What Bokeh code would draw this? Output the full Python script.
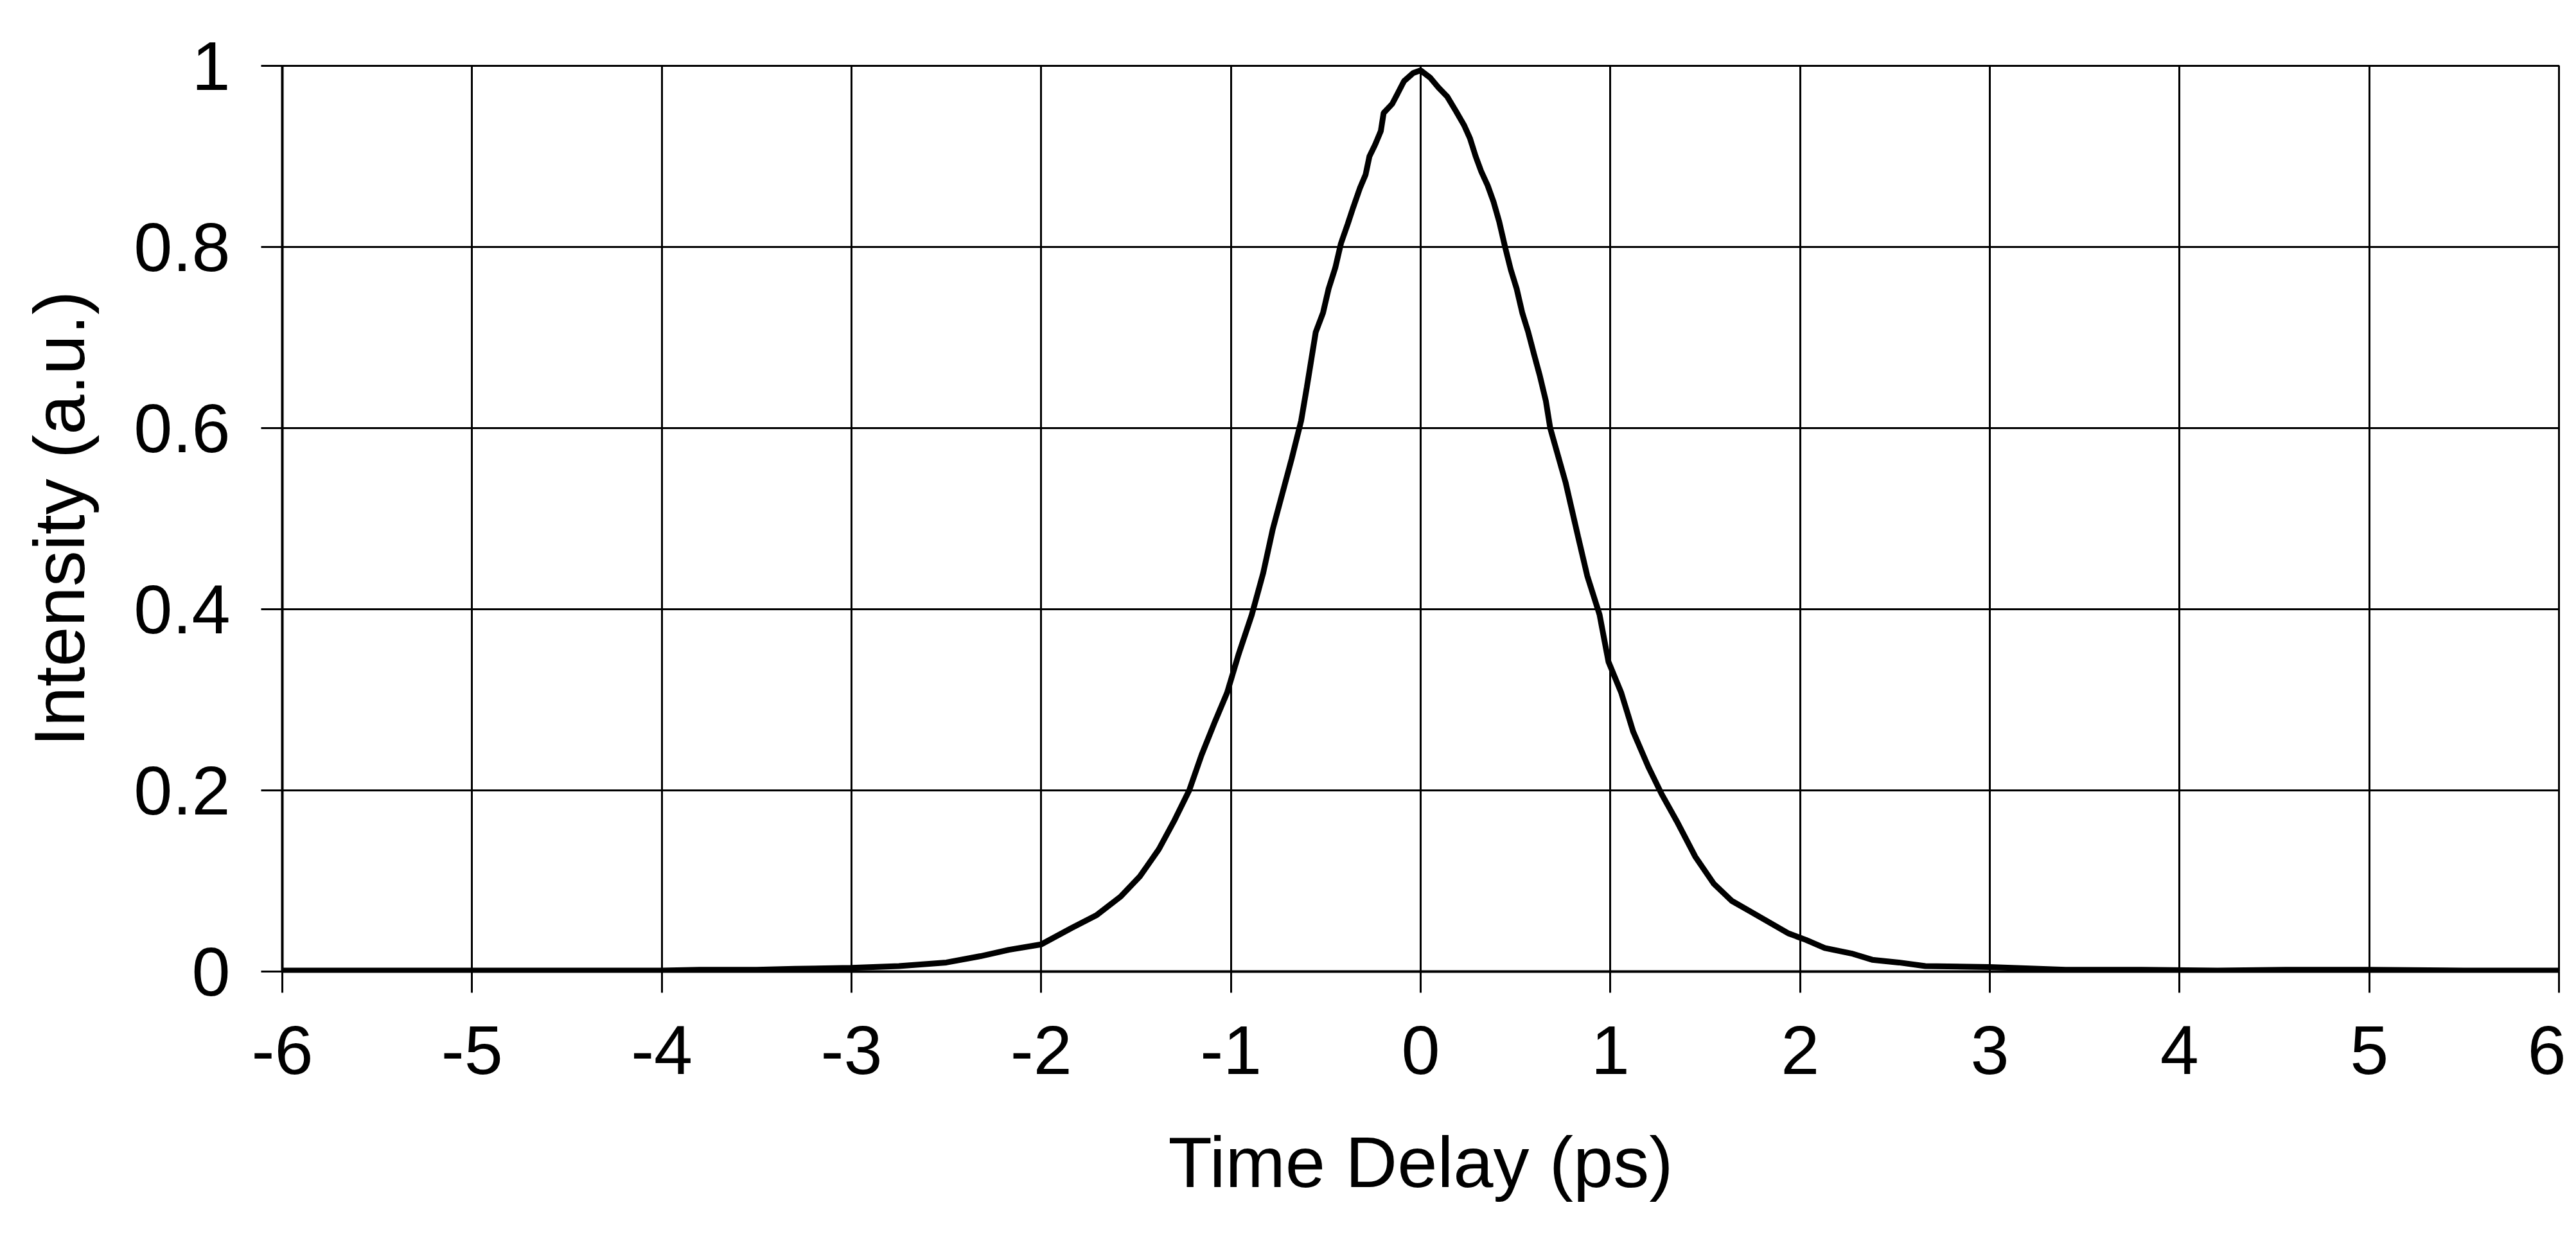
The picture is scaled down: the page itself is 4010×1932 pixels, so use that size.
from bokeh.plotting import figure
from bokeh.models import Range1d, FixedTicker
from bokeh.embed import file_html
from bokeh.resources import INLINE

# ---- data ----
time_ps = [-6.0, -5.5, -5.0, -4.5, -4.0, -3.8, -3.5, -3.3, -3.0, -2.75, -2.5, -2.32, -2.17, -2.0,
           -1.84, -1.71, -1.58, -1.48, -1.38, -1.30, -1.22, -1.155, -1.09, -1.02, -0.96, -0.89,
           -0.83, -0.78, -0.73, -0.68, -0.63, -0.60, -0.553, -0.515, -0.485, -0.45, -0.42, -0.385,
           -0.355, -0.32, -0.29, -0.27, -0.24, -0.21, -0.195, -0.15, -0.12, -0.088, -0.04, 0.0,
           0.05, 0.094, 0.14, 0.186, 0.23, 0.26, 0.29, 0.32, 0.353, 0.384, 0.414, 0.445, 0.475,
           0.506, 0.536, 0.567, 0.597, 0.628, 0.66, 0.683, 0.764, 0.83, 0.878, 0.943, 0.99, 1.057,
           1.12, 1.20, 1.27, 1.35, 1.447, 1.545, 1.64, 1.74, 1.84, 1.94, 2.03, 2.13, 2.27, 2.38,
           2.52, 2.66, 3.0, 3.4, 3.8, 4.2, 4.6, 5.0, 5.5, 6.0]
intensity = [0.001, 0.001, 0.001, 0.001, 0.001, 0.002, 0.002, 0.003, 0.004, 0.006, 0.010, 0.017,
             0.024, 0.030, 0.048, 0.062, 0.083, 0.105, 0.135, 0.166, 0.200, 0.239, 0.273, 0.308,
             0.350, 0.394, 0.440, 0.488, 0.527, 0.566, 0.608, 0.645, 0.706, 0.727, 0.754, 0.777,
             0.804, 0.825, 0.844, 0.865, 0.880, 0.900, 0.913, 0.928, 0.948, 0.958, 0.970, 0.983,
             0.992, 0.995, 0.987, 0.976, 0.966, 0.950, 0.934, 0.920, 0.900, 0.883, 0.868, 0.850,
             0.828, 0.800, 0.775, 0.754, 0.727, 0.706, 0.682, 0.658, 0.630, 0.600, 0.540, 0.480,
             0.437, 0.394, 0.342, 0.308, 0.265, 0.226, 0.196, 0.166, 0.127, 0.097, 0.078, 0.066,
             0.054, 0.042, 0.035, 0.026, 0.020, 0.013, 0.010, 0.006, 0.005, 0.002, 0.002, 0.001,
             0.002, 0.002, 0.001, 0.001]

x_ticks = [-6, -5, -4, -3, -2, -1, 0, 1, 2, 3, 4, 5, 6]
x_tick_labels = ["-6", "-5", "-4", "-3", "-2", "-1", "0", "1", "2", "3", "4", "5", "6"]
y_ticks = [0, 0.2, 0.4, 0.6, 0.8, 1]
y_tick_labels = ["0", "0.2", "0.4", "0.6", "0.8", "1"]

x_title = "Time Delay (ps)"
y_title = "Intensity (a.u.)"

FONT = "Liberation Sans"

p = figure(width=3994, height=1916, output_backend="svg", toolbar_location=None,
           x_range=Range1d(-6, 6), y_range=Range1d(0, 1),
           min_border_left=439, min_border_right=11, min_border_top=102, min_border_bottom=404)

p.background_fill_color = "white"
p.border_fill_color = "white"
p.outline_line_color = "black"
p.outline_line_width = 3

for ax, ticks, labels in ((p.xaxis[0], x_ticks, x_tick_labels), (p.yaxis[0], y_ticks, y_tick_labels)):
    ax.ticker = FixedTicker(ticks=ticks)
    ax.major_label_overrides = {t: l for t, l in zip(ticks, labels)}
    ax.minor_tick_line_color = None
    ax.major_tick_in = 0
    ax.major_tick_out = 33
    ax.major_tick_line_width = 3
    ax.major_tick_line_color = "black"
    ax.axis_line_color = "black"
    ax.axis_line_width = 4
    ax.major_label_text_font = FONT
    ax.major_label_text_font_size = "108px"
    ax.major_label_text_color = "black"
    ax.axis_label_text_font = FONT
    ax.axis_label_text_font_size = "112px"
    ax.axis_label_text_font_style = "normal"
    ax.axis_label_text_color = "black"

p.xaxis.axis_label = x_title
p.yaxis.axis_label = y_title
p.xaxis.major_label_standoff = 52
p.yaxis.major_label_standoff = 48
p.xaxis.axis_label_standoff = 72
p.yaxis.axis_label_standoff = 50

p.xgrid.ticker = FixedTicker(ticks=x_ticks)
p.ygrid.ticker = FixedTicker(ticks=y_ticks)
p.grid.grid_line_color = "black"
p.grid.grid_line_width = 3
p.grid.grid_line_alpha = 1.0

p.line(time_ps, intensity, line_color="black", line_width=9)

open("out.html", "w").write(file_html(p, INLINE))
